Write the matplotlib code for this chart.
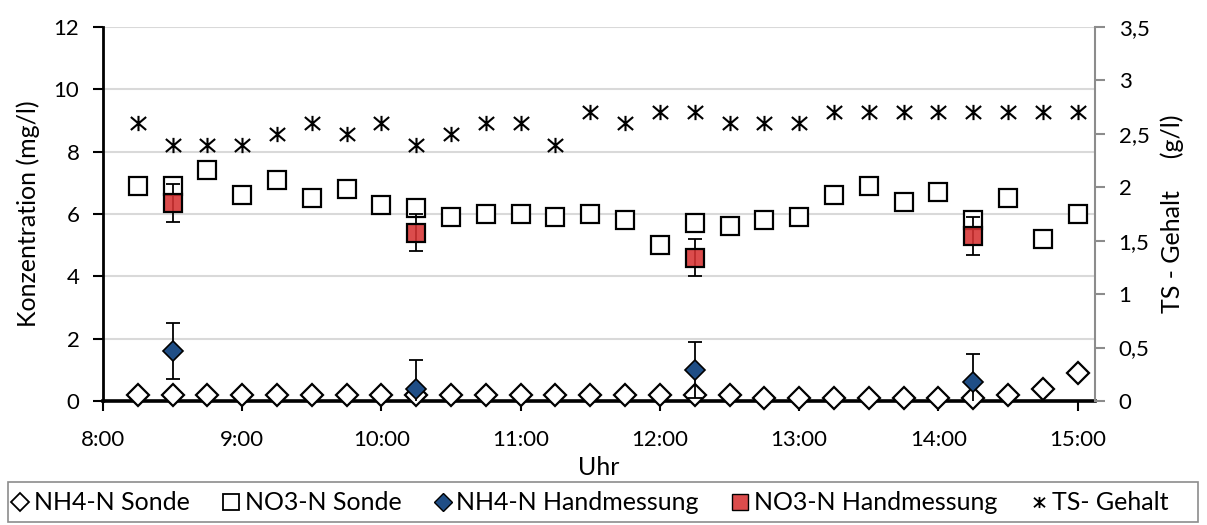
import matplotlib
matplotlib.use("Agg")
import matplotlib.pyplot as plt
from matplotlib.path import Path
from matplotlib.lines import Line2D
from matplotlib.patches import Rectangle
from matplotlib.ticker import FixedLocator

plt.rcParams['font.family'] = ['Lato', 'DejaVu Sans']

# ---- data ----
times = ["8:15", "8:30", "8:45", "9:00", "9:15", "9:30", "9:45", "10:00", "10:15", "10:30",
         "10:45", "11:00", "11:15", "11:30", "11:45", "12:00", "12:15", "12:30", "12:45", "13:00",
         "13:15", "13:30", "13:45", "14:00", "14:15", "14:30", "14:45", "15:00"]
nh4_sonde = [0.2, 0.2, 0.2, 0.2, 0.2, 0.2, 0.2, 0.2, 0.2, 0.2,
             0.2, 0.2, 0.2, 0.2, 0.2, 0.2, 0.2, 0.2, 0.1, 0.1,
             0.1, 0.1, 0.1, 0.1, 0.1, 0.2, 0.4, 0.9]
no3_sonde = [6.9, 6.9, 7.4, 6.6, 7.1, 6.5, 6.8, 6.3, 6.2, 5.9,
             6.0, 6.0, 5.9, 6.0, 5.8, 5.0, 5.7, 5.6, 5.8, 5.9,
             6.6, 6.9, 6.4, 6.7, 5.8, 6.5, 5.2, 6.0]
ts_gehalt = [2.6, 2.4, 2.4, 2.4, 2.5, 2.6, 2.5, 2.6, 2.4, 2.5,
             2.6, 2.6, 2.4, 2.7, 2.6, 2.7, 2.7, 2.6, 2.6, 2.6,
             2.7, 2.7, 2.7, 2.7, 2.7, 2.7, 2.7, 2.7]
hand_times = ["8:30", "10:15", "12:15", "14:15"]
nh4_hand = [1.6, 0.4, 1.0, 0.6]
nh4_hand_err = [0.9, 0.9, 0.9, 0.9]
no3_hand = [6.35, 5.4, 4.6, 5.3]
no3_hand_err = [0.6, 0.6, 0.6, 0.6]
hour_ticks = ["8:00", "9:00", "10:00", "11:00", "12:00", "13:00", "14:00", "15:00"]
left_ticks = [0, 2, 4, 6, 8, 10, 12]
right_ticks = [0, 0.5, 1, 1.5, 2, 2.5, 3, 3.5]
series_labels = ["NH4-N Sonde", "NO3-N Sonde", "NH4-N Handmessung", "NO3-N Handmessung",
                 "TS- Gehalt"]


def to_hours(s):
    h, m = s.split(":")
    return int(h) + int(m) / 60.0


x = [to_hours(t) for t in times]
xh = [to_hours(t) for t in hand_times]

# asterisk-like marker (X with vertical bar)
star_path = Path(
    [(-1, -0.85), (1, 0.85), (-1, 0.85), (1, -0.85), (0, -1), (0, 1)],
    [Path.MOVETO, Path.LINETO, Path.MOVETO, Path.LINETO, Path.MOVETO, Path.LINETO])

fig = plt.figure(figsize=(12.07, 5.25), dpi=100)
ax = fig.add_axes([103 / 1207, 1 - 401 / 525, (1095 - 103) / 1207, (401 - 27) / 525])
ax2 = ax.twinx()

blue = '#1F4E86'
red_face = (0.84, 0.2, 0.2, 0.88)

# series
ax.plot(x, no3_sonde, linestyle='none', marker='s', ms=13.5, mfc='white', mec='black',
        mew=1.6, zorder=3)
ax.plot(x, nh4_sonde, linestyle='none', marker='D', ms=11, mfc='white', mec='black',
        mew=1.6, zorder=3, clip_on=False)
ax.errorbar(xh, nh4_hand, yerr=nh4_hand_err, fmt='none', ecolor='black', elinewidth=1.3,
            capsize=5, capthick=1.3, zorder=4)
ax.errorbar(xh, no3_hand, yerr=no3_hand_err, fmt='none', ecolor='black', elinewidth=1.3,
            capsize=5, capthick=1.3, zorder=4)
ax.plot(xh, nh4_hand, linestyle='none', marker='D', ms=10.5, mfc=blue, mec='black',
        mew=1.2, zorder=5)
ax.plot(xh, no3_hand, linestyle='none', marker='s', ms=13.5, mfc=red_face, mec='black',
        mew=1.6, zorder=5)
ax2.plot(x, ts_gehalt, linestyle='none', marker=star_path, ms=11, mfc='none', mec='black',
         mew=1.5, zorder=3)

# axes formatting
ax.set_xlim(8.0, 15.125)
ax.set_ylim(0, 12)
ax2.set_ylim(0, 3.5)

ax.xaxis.set_major_locator(FixedLocator([to_hours(t) for t in hour_ticks]))
ax.set_xticklabels(hour_ticks)
ax.set_yticks(left_ticks)
ax.set_yticklabels([str(v) for v in left_ticks])
ax2.set_yticks(right_ticks)
ax2.set_yticklabels([("%g" % v).replace('.', ',') for v in right_ticks])

ax.grid(axis='y', color='#D9D9D9', linewidth=1.5, zorder=0)
ax.set_axisbelow(True)

for sp in ['top', 'right']:
    ax.spines[sp].set_visible(False)
for sp in ['top', 'left', 'bottom']:
    ax2.spines[sp].set_visible(False)
ax.spines['left'].set_linewidth(2)
ax.spines['bottom'].set_linewidth(2.6)
ax2.spines['right'].set_color('#8C8C8C')
ax2.spines['right'].set_linewidth(1.5)

fs_tick = 16
fs_lab = 18
ax.tick_params(axis='y', direction='out', length=7, width=1.5, color='black',
               labelsize=fs_tick, pad=10)
ax.tick_params(axis='x', direction='out', length=7, width=1.5, color='black',
               labelsize=fs_tick, pad=14)
ax2.tick_params(axis='y', direction='out', length=7, width=1.5, color='#8C8C8C',
                labelsize=fs_tick, pad=10, labelcolor='black')

ax.set_xlabel("Uhr", fontsize=fs_lab, labelpad=4)
ax.set_ylabel("Konzentration (mg/l)", fontsize=fs_lab, labelpad=10)
ax2.set_ylabel("TS - Gehalt     (g/l)", fontsize=fs_lab, labelpad=8)

# legend
handles = [
    Line2D([], [], linestyle='none', marker='D', ms=9, mfc='white', mec='black', mew=1.3),
    Line2D([], [], linestyle='none', marker='s', ms=11, mfc='white', mec='black', mew=1.3),
    Line2D([], [], linestyle='none', marker='D', ms=9, mfc=blue, mec='black', mew=1.0),
    Line2D([], [], linestyle='none', marker='s', ms=11, mfc=red_face, mec='black', mew=1.0),
    Line2D([], [], linestyle='none', marker=star_path, ms=8, mfc='none', mec='black', mew=1.3),
]
fig.legend(handles, series_labels, loc='center', ncol=5, fontsize=fs_lab,
           bbox_to_anchor=(590 / 1207, 1 - 503 / 525), frameon=False,
           handlelength=0.7, handletextpad=0.2, columnspacing=1.3, borderaxespad=0)
fig.patches.append(Rectangle((8 / 1207, 3 / 525), 1190 / 1207, 81 / 1050,
                             transform=fig.transFigure, fill=False, ec='#8C8C8C', lw=1.2))

fig.savefig("out.png", dpi=100)
